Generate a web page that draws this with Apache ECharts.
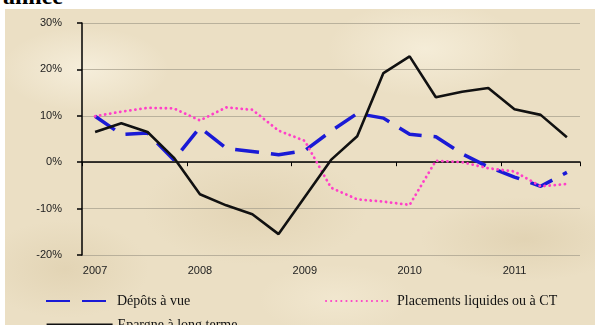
<!DOCTYPE html>
<html>
<head>
<meta charset="utf-8">
<script src="https://cdn.jsdelivr.net/npm/echarts@6/dist/echarts.min.js"></script>
<style>
  html, body { margin: 0; padding: 0; background: #fff; }
  .wrap {
    position: relative;
    width: 595px;
    height: 325px;
    background: #fff;
    overflow: hidden;
  }
  /* fond type parchemin */
  .paper {
    position: absolute;
    left: 5px;
    top: 9px;
    right: 0;
    bottom: 0;
    background:
      radial-gradient(ellipse 120px 60px at 80px 60px, rgba(250,244,228,0.7), rgba(250,244,228,0) 70%),
      radial-gradient(ellipse 140px 70px at 420px 40px, rgba(249,242,224,0.7), rgba(249,242,224,0) 70%),
      radial-gradient(ellipse 160px 80px at 250px 200px, rgba(214,196,158,0.4), rgba(214,196,158,0) 70%),
      radial-gradient(ellipse 150px 60px at 520px 230px, rgba(212,194,156,0.4), rgba(212,194,156,0) 70%),
      radial-gradient(ellipse 120px 70px at 60px 260px, rgba(216,199,162,0.45), rgba(216,199,162,0) 70%),
      radial-gradient(ellipse 110px 50px at 330px 290px, rgba(245,236,214,0.6), rgba(245,236,214,0) 70%),
      #ebdfc4;
  }
  .head {
    position: absolute;
    left: 3px;
    top: -17px;
    font: bold 24px "Liberation Serif", serif;
    color: #000;
  }
  #chart { position: absolute; left: 0; top: 0; width: 595px; height: 325px; }
</style>
</head>
<body>
<div class="wrap">
  <div class="paper"></div>
  <div class="head">année</div>
  <div id="chart"></div>
</div>
<script>
// trimestres 2007 T1 -> 2011 T3
const quarters = [
  "2007", "2007T2", "2007T3", "2007T4",
  "2008", "2008T2", "2008T3", "2008T4",
  "2009", "2009T2", "2009T3", "2009T4",
  "2010", "2010T2", "2010T3", "2010T4",
  "2011", "2011T2", "2011T3"
]
const depotsVue = [9.9, 6.0, 6.3, 0.5, 7.5, 3.0, 2.3, 1.6, 2.5, 6.7, 10.5, 9.5, 6.0, 5.5, 1.8, -1.0, -3.2, -5.2, -2.2]
const placementsCT = [9.9, 10.9, 11.7, 11.6, 9.0, 11.8, 11.3, 6.8, 4.6, -5.5, -8.0, -8.5, -9.2, 0.3, 0.0, -1.3, -2.0, -5.2, -4.7]
const epargneLT = [6.5, 8.4, 6.5, 1.0, -6.9, -9.3, -11.2, -15.5, -7.5, 0.5, 5.6, 19.2, 22.8, 14.0, 15.2, 16.0, 11.4, 10.2, 5.4]

const names = ["Dépôts à vue", "Placements liquides ou à CT", "Epargne à long terme"]

const chart = echarts.init(document.getElementById("chart"))

const legendBase = {
  itemWidth: 66,
  itemHeight: 12,
  itemGap: 4,
  // pas de rond dans la légende
  itemStyle: { color: "transparent", borderColor: "transparent", borderWidth: 0, opacity: 0 },
  textStyle: {
    fontFamily: "Liberation Serif",
    fontSize: 14,
    color: "#111"
  }
}

const option = {
  backgroundColor: "transparent",
  animation: false,
  grid: {
    left: 82,
    right: 15,
    top: 23,
    bottom: 70
  },
  legend: [
    Object.assign({ data: [names[0]], left: 40, top: 289 }, legendBase),
    Object.assign({ data: [names[1]], left: 320, top: 289 }, legendBase),
    Object.assign({ data: [names[2]], left: 40, top: 313, lineStyle: { width: 3.2 } }, legendBase)
  ],
  xAxis: [
    {
      // axe qui passe par 0
      type: "category",
      data: quarters,
      boundaryGap: true,
      axisLine: { onZero: true, lineStyle: { color: "#000", width: 1.5 } },
      axisTick: { show: true, interval: 3, length: 4, lineStyle: { color: "#000" } },
      axisLabel: { show: false },
      splitLine: { show: false }
    },
    {
      // libellés en bas
      type: "category",
      data: quarters,
      position: "bottom",
      boundaryGap: true,
      axisLine: { show: false, onZero: false },
      axisTick: { show: false },
      axisLabel: {
        interval: 3,
        margin: 10,
        color: "#222",
        fontFamily: "Liberation Sans",
        fontSize: 11,
        formatter: (v) => v.slice(0, 4)
      },
      splitLine: { show: false }
    }
  ],
  yAxis: {
    type: "value",
    min: -20,
    max: 30,
    interval: 10,
    axisLine: { show: true, lineStyle: { color: "#000", width: 1.5 } },
    axisTick: { show: true, length: 5, lineStyle: { color: "#000", width: 1.5 } },
    axisLabel: {
      margin: 20,
      color: "#222",
      fontFamily: "Liberation Sans",
      fontSize: 11,
      formatter: "{value}%"
    },
    splitLine: { lineStyle: { color: "#aca592", width: 0.8 } }
  },
  series: [
    {
      name: names[0],
      type: "line",
      data: depotsVue,
      symbol: "none",
      color: "#1a1ad6",
      lineStyle: { color: "#1a1ad6", width: 3.5, type: [24, 12] }
    },
    {
      name: names[1],
      type: "line",
      data: placementsCT,
      symbol: "none",
      color: "#ff40c8",
      lineStyle: { color: "#ff40c8", width: 2.8, type: [0.1, 5], cap: "round" }
    },
    {
      name: names[2],
      type: "line",
      data: epargneLT,
      symbol: "none",
      color: "#111",
      lineStyle: { color: "#111", width: 2.6 }
    }
  ]
}

chart.setOption(option)
</script>
</body>
</html>
